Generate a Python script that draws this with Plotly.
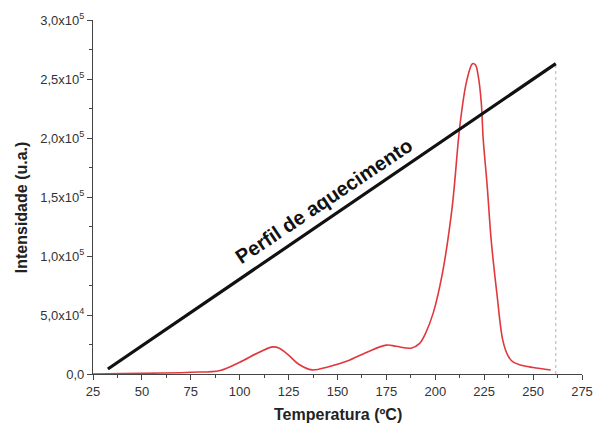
import plotly.graph_objects as go

# Red emission curve (temperature in ºC, intensity in a.u.)
temp = [25, 40, 60, 75, 90, 100, 110, 117, 120, 125, 130, 137, 145, 155, 165, 175,
        180, 187.6, 192, 195, 199, 203.6, 208.6, 212.6, 216, 219, 220.5, 222, 223.5,
        224.5, 226.5, 228.6, 231.5, 234.5, 237, 239.5, 243.6, 250, 259]
intens = [0, 300, 800, 1500, 3000, 10000, 18500, 23000, 22000, 16000, 8500, 3500,
          6000, 11000, 18500, 24500, 23500, 21900, 26000, 34500, 52000, 85000, 141000,
          211000, 248000, 263000, 262000, 252000, 230000, 199000, 160000, 113000,
          68000, 28700, 16000, 10400, 7600, 5500, 3400]

# Heating profile line
prof_x = [32.6, 261.6]
prof_y = [4200, 263000]

xticks = [25, 50, 75, 100, 125, 150, 175, 200, 225, 250, 275]
yticks = [0, 50000, 100000, 150000, 200000, 250000, 300000]
yticklabels = ["0,0", "5,0x10<sup>4</sup>", "1,0x10<sup>5</sup>", "1,5x10<sup>5</sup>",
               "2,0x10<sup>5</sup>", "2,5x10<sup>5</sup>", "3,0x10<sup>5</sup>"]

FONT = "Liberation Sans, Arial"

fig = go.Figure()
fig.add_trace(go.Scatter(x=[prof_x[1], prof_x[1]], y=[0, prof_y[1]], mode="lines",
                         line=dict(color="#b0b0b0", width=1, dash="dot"),
                         showlegend=False, hoverinfo="skip"))
fig.add_trace(go.Scatter(x=temp, y=intens, mode="lines", line_shape="spline",
                         line=dict(color="#e0383c", width=1.6),
                         showlegend=False, cliponaxis=False))
fig.add_trace(go.Scatter(x=prof_x, y=prof_y, mode="lines",
                         line=dict(color="#111111", width=3.2),
                         showlegend=False))

fig.add_annotation(x=143, y=146500, text="<b>Perfil de aquecimento</b>", showarrow=False,
                   textangle=-33.8, font=dict(family=FONT, size=20, color="#111111"))

# axis titles
fig.add_annotation(xref="paper", yref="paper", x=-0.146, y=0.47, xanchor="center",
                   yanchor="middle", showarrow=False, textangle=-90,
                   text="<b>Intensidade (u.a.)</b>",
                   font=dict(family=FONT, size=16, color="#222222"))
fig.add_annotation(xref="paper", yref="paper", x=0.5, y=-0.085, xanchor="center",
                   yanchor="top", showarrow=False,
                   text="<b>Temperatura (ºC)</b>",
                   font=dict(family=FONT, size=16, color="#222222"))

fig.update_layout(
    width=604, height=427,
    margin=dict(l=93, r=11, t=18, b=53),
    paper_bgcolor="white", plot_bgcolor="white",
    font=dict(family=FONT, size=13, color="#333333"),
)
fig.update_xaxes(
    range=[25, 275], tickvals=xticks, ticktext=[str(v) for v in xticks],
    showgrid=False, zeroline=False, showline=True, linecolor="#444444", linewidth=1.2,
    ticks="outside", ticklen=5, tickcolor="#444444",
    minor=dict(ticks="outside", ticklen=3, dtick=12.5, tick0=25, tickcolor="#444444"),
)
fig.update_yaxes(
    range=[0, 300000], tickvals=yticks, ticktext=yticklabels,
    showgrid=False, zeroline=False, showline=True, linecolor="#444444", linewidth=1.2,
    ticks="outside", ticklen=5, tickcolor="#444444",
    minor=dict(ticks="outside", ticklen=3, dtick=25000, tick0=0, tickcolor="#444444"),
)

fig.write_html("out.html")
